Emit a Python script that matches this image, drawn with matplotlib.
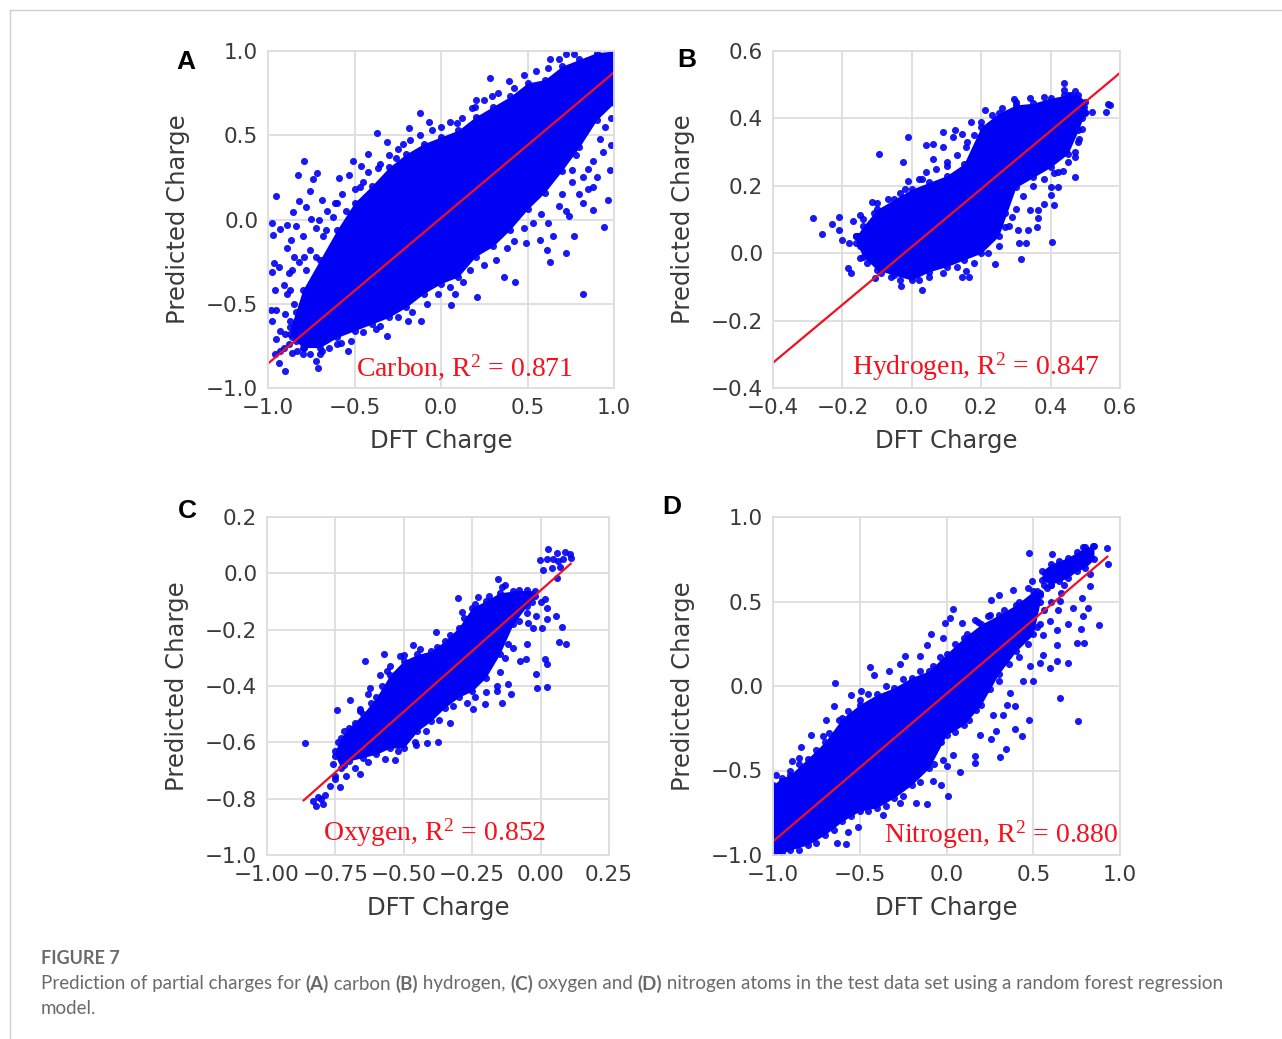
import matplotlib
matplotlib.use('Agg')
import matplotlib.pyplot as plt
from matplotlib.lines import Line2D

plt.rcParams['font.family'] = ['DejaVu Sans']
plt.rcParams['mathtext.default'] = 'regular'

carbon_band_x = [-0.87, -0.84, -0.8, -0.7, -0.6, -0.5, -0.4, -0.3, -0.2, -0.1, 0.0, 0.1, 0.2, 0.3, 0.4, 0.5, 0.6, 0.7, 0.8, 0.9, 1.0]
carbon_band_low = [-0.68, -0.72, -0.76, -0.76, -0.70, -0.66, -0.62, -0.58, -0.52, -0.44, -0.38, -0.34, -0.22, -0.16, -0.06, 0.06, 0.16, 0.29, 0.43, 0.59, 0.69]
carbon_band_high = [-0.64, -0.55, -0.42, -0.24, -0.06, 0.10, 0.20, 0.31, 0.39, 0.45, 0.49, 0.53, 0.61, 0.67, 0.73, 0.81, 0.83, 0.91, 0.95, 0.99, 1.0]

hydrogen_band_x = [-0.16, -0.14, -0.10, -0.05, 0.0, 0.05, 0.1, 0.15, 0.2, 0.25, 0.3, 0.35, 0.4, 0.45, 0.48, 0.5]
hydrogen_band_low = [0.03, -0.01, -0.05, -0.065, -0.08, -0.055, -0.04, -0.02, 0.0, 0.05, 0.195, 0.225, 0.255, 0.295, 0.365, 0.42]
hydrogen_band_high = [0.05, 0.08, 0.13, 0.16, 0.19, 0.21, 0.23, 0.265, 0.375, 0.415, 0.44, 0.445, 0.46, 0.47, 0.47, 0.45]

oxygen_band_x = [-0.75, -0.73, -0.70, -0.65, -0.6, -0.55, -0.5, -0.45, -0.4, -0.35, -0.3, -0.25, -0.2, -0.15, -0.1, -0.05, -0.02]
oxygen_band_low = [-0.65, -0.69, -0.666, -0.654, -0.642, -0.62, -0.62, -0.56, -0.524, -0.477, -0.44, -0.418, -0.37, -0.288, -0.18, -0.116, -0.08]
oxygen_band_high = [-0.63, -0.583, -0.548, -0.5, -0.44, -0.36, -0.31, -0.288, -0.276, -0.24, -0.193, -0.122, -0.098, -0.069, -0.063, -0.06, -0.063]

nitrogen_band_x = [-1.0, -0.95, -0.9, -0.8, -0.7, -0.6, -0.5, -0.4, -0.3, -0.2, -0.1, 0.0, 0.1, 0.2, 0.3, 0.4, 0.5, 0.54]
nitrogen_band_low = [-1.0, -0.99, -0.97, -0.94, -0.88, -0.80, -0.74, -0.72, -0.66, -0.585, -0.485, -0.29, -0.23, -0.11, 0.07, 0.205, 0.305, 0.5]
nitrogen_band_high = [-0.585, -0.545, -0.525, -0.43, -0.33, -0.19, -0.11, -0.05, -0.01, 0.05, 0.09, 0.19, 0.285, 0.365, 0.42, 0.48, 0.56, 0.54]
nitrogen_cap_x = [0.55, 0.6, 0.65, 0.7, 0.75, 0.8, 0.85]
nitrogen_cap_low = [0.63, 0.60, 0.62, 0.64, 0.68, 0.70, 0.75]
nitrogen_cap_high = [0.68, 0.72, 0.74, 0.76, 0.79, 0.82, 0.83]

# scattered points outside the dense part
carbon_x = [-0.956, -0.975, -0.97, -0.79, -0.826, -0.718, -0.74, -0.76, -0.82, -0.78, -0.855, -0.685, -0.75, -0.84, -0.89, -0.93, -0.865, -0.89, -0.80, -0.85, -0.79, -0.965, -0.975, -0.935, -0.88, -0.91, -0.96, -0.89, -0.985, -0.955, -0.975, -0.90, -0.93, -0.955, -0.91, -0.86, -0.935, -0.90, -0.79, -0.725, -0.71, -0.685, -0.54, -0.58, -0.31, -0.375, -0.19, -0.115, 0.06, 0.21, 0.08, 0.425, 0.365, 0.82, 0.63, 0.72, 0.61, 0.77, 0.945, 0.65, 0.49, 0.57, 0.88, 0.82, 0.965, 0.975, 0.935, 0.985, 0.88, 0.76, 0.82, -0.51, -0.46, -0.42, -0.37, -0.31, -0.22, -0.12, -0.185, -0.07, 0.09, 0.205, 0.195, 0.285, 0.295, 0.395, 0.63, 0.77, -0.59, -0.53, -0.47, -0.365, -0.26, -0.665, -0.705, -0.625, -0.61]
carbon_y = [0.139, -0.02, -0.09, 0.347, 0.263, 0.273, 0.24, 0.17, 0.11, 0.075, 0.045, 0.115, 0.005, -0.04, -0.03, -0.055, -0.12, -0.17, -0.10, -0.22, -0.22, -0.26, -0.31, -0.28, -0.32, -0.39, -0.42, -0.44, -0.54, -0.54, -0.60, -0.56, -0.66, -0.71, -0.76, -0.79, -0.85, -0.90, -0.76, -0.84, -0.88, -0.78, -0.78, -0.73, -0.69, -0.65, -0.6, -0.6, -0.51, -0.46, -0.44, -0.37, -0.34, -0.44, -0.25, -0.2, -0.18, -0.1, -0.045, -0.1, -0.14, -0.12, 0.055, 0.095, 0.115, 0.295, 0.40, 0.44, 0.195, 0.295, 0.255, 0.347, 0.317, 0.39, 0.515, 0.46, 0.45, 0.635, 0.545, 0.58, 0.57, 0.71, 0.665, 0.84, 0.735, 0.82, 0.95, 0.985, 0.245, 0.265, 0.195, 0.305, 0.365, -0.06, 0.0, 0.015, 0.1]
carbon_edge_x = [-0.72, -0.68, -0.66, -0.6, -0.57, -0.55, -0.5, -0.45, -0.42, -0.35, -0.3, -0.25, -0.18, -0.12, -0.05, 0.0, 0.05, 0.12, 0.18, 0.25, 0.33, 0.42, 0.48, 0.55, 0.62, 0.68, 0.72, -0.86, -0.82, -0.78, -0.76, -0.72, -0.87, -0.85, -0.87, -0.9, -0.86, -0.83, -0.88, -0.93, -0.96, -0.8, -0.76, -0.7, -0.65, -0.6, -0.52, -0.45, -0.35, -0.25, -0.17, -0.08, -0.02, 0.05, 0.13, 0.17, 0.25, 0.32, 0.38, 0.42, 0.48, 0.53, 0.58, 0.62, 0.68, 0.7, 0.72, 0.76, 0.8, 0.85, 0.88, 0.92, 0.95, 0.98, 0.85, 0.9, 0.78, 0.74]
carbon_edge_y = [-0.05, -0.1, 0.05, 0.1, 0.15, 0.05, 0.18, 0.22, 0.28, 0.33, 0.38, 0.42, 0.47, 0.5, 0.53, 0.55, 0.58, 0.6, 0.66, 0.71, 0.75, 0.78, 0.86, 0.88, 0.9, 0.95, 0.98, -0.3, -0.25, -0.3, -0.18, -0.22, -0.42, -0.5, -0.6, -0.68, -0.7, -0.78, -0.74, -0.78, -0.8, -0.8, -0.8, -0.8, -0.76, -0.74, -0.72, -0.67, -0.63, -0.58, -0.55, -0.5, -0.44, -0.4, -0.37, -0.3, -0.27, -0.24, -0.17, -0.13, -0.05, -0.02, 0.03, -0.02, 0.08, 0.15, 0.05, 0.22, 0.15, 0.3, 0.35, 0.48, 0.55, 0.6, 0.18, 0.25, 0.38, 0.02]

hydrogen_x = [-0.285, -0.26, -0.23, -0.21, -0.21, -0.2, -0.17, -0.15, -0.18, -0.185, -0.175, -0.15, -0.155, -0.115, -0.11, -0.105, -0.095, -0.025, -0.01, -0.01, 0.04, 0.06, 0.09, 0.125, 0.09, 0.12, 0.06, 0.1, 0.145, 0.17, 0.155, 0.03, -0.035, 0.03, -0.03, -0.035, 0.145, 0.165, 0.155, 0.24, 0.315, 0.405, 0.33, 0.31, 0.335, 0.305, 0.36, 0.365, 0.34, 0.41, 0.38, 0.4, 0.365, 0.29, 0.27, 0.41, 0.435, 0.47, 0.47, 0.483, 0.4, 0.42, 0.44, 0.44, 0.295, 0.21, 0.38, 0.47, 0.495, 0.52, 0.56, 0.565, 0.57, 0.5]
hydrogen_y = [0.103, 0.058, 0.086, 0.108, 0.068, 0.04, 0.096, 0.113, 0.03, -0.043, -0.06, -0.015, 0.05, 0.152, 0.12, -0.075, 0.294, 0.27, 0.345, 0.215, 0.32, 0.325, 0.36, 0.365, 0.315, 0.345, 0.28, 0.26, 0.355, 0.39, 0.315, 0.22, 0.18, -0.108, -0.098, -0.08, -0.07, -0.07, -0.053, -0.033, -0.018, 0.032, 0.03, 0.03, 0.068, 0.068, 0.078, 0.103, 0.128, 0.143, 0.146, 0.172, 0.128, 0.108, 0.078, 0.237, 0.244, 0.227, 0.286, 0.339, 0.197, 0.195, 0.506, 0.484, 0.457, 0.425, 0.464, 0.48, 0.435, 0.42, 0.42, 0.443, 0.44, 0.415]
hydrogen_edge_x = [-0.16, -0.15, -0.14, -0.12, -0.13, -0.1, -0.07, -0.09, -0.06, -0.02, 0.02, 0.04, 0.07, 0.1, 0.13, 0.16, 0.18, 0.2, 0.23, 0.26, 0.3, 0.34, 0.02, 0.05, 0.09, 0.13, 0.18, 0.22, 0.25, 0.28, 0.27, 0.3, 0.32, 0.35, 0.38, 0.42, 0.45, 0.47, 0.48, 0.46, 0.44, 0.49, 0.49, 0.49]
hydrogen_edge_y = [0.05, 0.02, 0.1, 0.0, -0.03, 0.15, 0.16, -0.06, -0.07, 0.19, 0.22, 0.24, 0.25, 0.27, 0.29, 0.33, 0.35, 0.39, 0.41, 0.43, 0.45, 0.46, -0.08, -0.07, -0.06, -0.04, -0.03, 0.0, 0.02, 0.08, 0.12, 0.13, 0.17, 0.2, 0.22, 0.24, 0.27, 0.3, 0.33, 0.47, 0.47, 0.44, 0.4, 0.37]

oxygen_x = [-0.862, -0.832, -0.82, -0.813, -0.797, -0.804, -0.787, -0.77, -0.752, -0.76, -0.734, -0.713, -0.66, -0.533, -0.743, -0.697, -0.66, -0.64, -0.573, -0.624, -0.588, -0.63, -0.563, -0.515, -0.466, -0.383, -0.301, -0.289, -0.228, -0.157, -0.13, -0.265, -0.374, -0.417, -0.454, -0.332, -0.246, -0.204, -0.14, -0.109, -0.161, -0.118, -0.076, -0.055, -0.051, -0.1, -0.012, 0.022, -0.018, 0.016, 0.024, 0.067, 0.093, 0.077, 0.056, 0.022, 0.004, -0.027, -0.015, 0.022, 0.016, -0.045, 0.028, -0.002, 0.01, 0.022, 0.04, 0.046, 0.059, 0.065, 0.083, 0.089, 0.107, 0.11, 0.07, 0.061]
oxygen_y = [-0.604, -0.81, -0.826, -0.794, -0.818, -0.802, -0.787, -0.755, -0.731, -0.676, -0.759, -0.72, -0.711, -0.664, -0.486, -0.45, -0.489, -0.311, -0.285, -0.406, -0.362, -0.43, -0.347, -0.294, -0.254, -0.21, -0.089, -0.136, -0.084, -0.019, -0.043, -0.163, -0.599, -0.604, -0.609, -0.53, -0.483, -0.465, -0.46, -0.427, -0.418, -0.394, -0.311, -0.305, -0.252, -0.264, -0.406, -0.404, -0.356, -0.303, -0.323, -0.243, -0.252, -0.189, -0.151, -0.163, -0.193, -0.193, -0.151, -0.122, -0.092, -0.175, 0.085, 0.046, 0.011, 0.05, 0.02, 0.05, 0.073, 0.044, 0.05, 0.076, 0.067, 0.056, 0.022, -0.018]
oxygen_edge_x = [-0.74, -0.72, -0.68, -0.66, -0.62, -0.58, -0.55, -0.5, -0.44, -0.38, -0.33, -0.28, -0.24, -0.19, -0.14, -0.08, -0.72, -0.68, -0.63, -0.57, -0.52, -0.46, -0.42, -0.37, -0.32, -0.27, -0.24, -0.2, -0.16, -0.15, -0.13, -0.12, -0.08, -0.05, -0.03, 0.0, -0.75]
oxygen_edge_y = [-0.6, -0.56, -0.53, -0.48, -0.46, -0.4, -0.33, -0.29, -0.27, -0.26, -0.22, -0.16, -0.11, -0.08, -0.05, -0.06, -0.68, -0.69, -0.67, -0.66, -0.63, -0.6, -0.56, -0.52, -0.47, -0.46, -0.44, -0.42, -0.4, -0.35, -0.3, -0.25, -0.17, -0.14, -0.1, -0.1, -0.72]

nitrogen_x = [-0.64, -0.44, -0.42, -0.33, -0.27, -0.24, -0.15, -0.09, -0.115, -0.02, -0.01, 0.02, 0.04, 0.087, 0.163, 0.24, 0.3, 0.256, 0.385, 0.477, 0.606, 0.49, 0.52, 0.577, -0.548, -0.494, -0.65, -0.692, -0.78, -0.837, -0.888, -0.98, -0.85, -0.71, -0.63, -0.577, -0.567, -0.51, -0.365, -0.177, -0.112, -0.27, 0.01, -0.077, -0.03, 0.077, 0.004, -0.02, 0.038, 0.163, 0.163, 0.31, 0.342, 0.254, 0.394, 0.438, 0.477, 0.288, 0.192, 0.327, 0.394, 0.346, 0.27, 0.654, 0.756, 0.365, 0.5, 0.442, 0.596, 0.538, 0.635, 0.702, 0.48, 0.558, 0.635, 0.75, 0.792, 0.775, 0.88, 0.788, 0.702, 0.635, 0.596, 0.558, 0.538, 0.817, 0.73, 0.779, 0.827, 0.654, 0.933, 0.927, 0.846, 0.788, 0.75, 0.827]
nitrogen_y = [0.018, 0.113, 0.067, 0.09, 0.13, 0.176, 0.18, 0.305, 0.24, 0.285, 0.373, 0.403, 0.457, 0.373, 0.393, 0.413, 0.54, 0.506, 0.571, 0.789, 0.779, 0.62, 0.56, 0.581, -0.051, -0.032, -0.12, -0.2, -0.29, -0.358, -0.443, -0.526, -0.427, -0.298, -0.93, -0.935, -0.862, -0.832, -0.763, -0.694, -0.698, -0.694, -0.65, -0.565, -0.585, -0.51, -0.476, -0.437, -0.407, -0.457, -0.417, -0.423, -0.372, -0.312, -0.253, -0.294, -0.204, -0.265, -0.288, -0.17, -0.12, -0.11, -0.17, -0.071, -0.207, -0.042, 0.032, 0.028, 0.107, 0.136, 0.146, 0.136, 0.117, 0.186, 0.245, 0.255, 0.255, 0.34, 0.36, 0.413, 0.364, 0.334, 0.383, 0.304, 0.364, 0.462, 0.462, 0.522, 0.591, 0.502, 0.719, 0.818, 0.828, 0.822, 0.759, 0.66]
nitrogen_edge_x = [-0.95, -0.9, -0.85, -0.75, -0.68, -0.62, -0.57, -0.5, -0.45, -0.35, -0.25, -0.15, -0.08, -0.04, 0.05, 0.12, 0.18, 0.25, 0.33, 0.42, 0.47, -0.85, -0.75, -0.65, -0.55, -0.45, -0.35, -0.25, -0.15, -0.07, -0.03, 0.05, 0.13, 0.17, 0.25, 0.3, 0.36, 0.42, 0.47, 0.52, 0.56, 0.6, 0.64, 0.54, 0.6, 0.56, 0.66, 0.68]
nitrogen_edge_y = [-0.56, -0.5, -0.46, -0.38, -0.28, -0.2, -0.15, -0.08, -0.05, 0.0, 0.04, 0.09, 0.12, 0.17, 0.25, 0.31, 0.38, 0.42, 0.45, 0.5, 0.58, -0.97, -0.93, -0.85, -0.77, -0.74, -0.71, -0.65, -0.57, -0.46, -0.33, -0.27, -0.2, -0.14, -0.02, 0.03, 0.13, 0.17, 0.25, 0.35, 0.45, 0.5, 0.45, 0.55, 0.6, 0.6, 0.55, 0.6]

carbon_fit_x, carbon_fit_y = [-1.0, 1.0], [-0.855, 0.873]
hydrogen_fit_x, hydrogen_fit_y = [-0.4, 0.6], [-0.325, 0.535]
oxygen_fit_x, oxygen_fit_y = [-0.866, 0.11], [-0.806, 0.034]
nitrogen_fit_x, nitrogen_fit_y = [-1.0, 0.927], [-0.92, 0.765]

carbon_ticks = [-1.0, -0.5, 0.0, 0.5, 1.0]
hydrogen_ticks = [-0.4, -0.2, 0.0, 0.2, 0.4, 0.6]
oxygen_xticks = [-1.0, -0.75, -0.5, -0.25, 0.0, 0.25]
oxygen_yticks = [-1.0, -0.8, -0.6, -0.4, -0.2, 0.0, 0.2]

W, H = 1282, 1039
TXT = '#3a3a3a'
GRID = '#dddddd'
BLUE = '#0000f5'


def tick_text(fmt, v):
    return (fmt % v).replace('-', '\u2212')


def panel(box, xticks, yticks, xfmt, bands, px, py, fit_x, fit_y, label, label_xy, letter, letter_xy):
    l, t, r, b = box
    ax = fig.add_axes([l / W, 1 - b / H, (r - l) / W, (b - t) / H])
    ax.set_xlim(xticks[0], xticks[-1])
    ax.set_ylim(yticks[0], yticks[-1])
    ax.set_xticks(xticks)
    ax.set_xticklabels([tick_text(xfmt, v) for v in xticks])
    ax.set_yticks(yticks)
    ax.set_yticklabels([tick_text('%.1f', v) for v in yticks])
    ax.set_axisbelow(True)
    ax.grid(color=GRID, lw=1.3)
    ax.tick_params(length=0, labelsize=15.5, labelcolor=TXT)
    ax.tick_params(axis='x', pad=7)
    ax.tick_params(axis='y', pad=7)
    for s in ax.spines.values():
        s.set_color(GRID)
        s.set_linewidth(1.3)
    for bx, blo, bhi in bands:
        ax.fill_between(bx, blo, bhi, color=BLUE, lw=0)
        ax.scatter(bx, blo, s=26, color=BLUE, lw=0, alpha=0.9)
        ax.scatter(bx, bhi, s=26, color=BLUE, lw=0, alpha=0.9)
    for xs, ys in zip(px, py):
        ax.scatter(xs, ys, s=26, color=BLUE, lw=0, alpha=0.9)
    ax.plot(fit_x, fit_y, color='#f01020', lw=1.6)
    ax.set_xlabel('DFT Charge', fontsize=17.5, color=TXT, va='center')
    ax.xaxis.set_label_coords(0.5, -53 / (b - t))
    ax.set_ylabel('Predicted Charge', fontsize=17.5, color=TXT, va='center')
    ax.yaxis.set_label_coords(-90 / (r - l), 0.5)
    fig.text(label_xy[0] / W, 1 - label_xy[1] / H, label, color='#f5101c', fontsize=20,
             family='Liberation Serif', ha='left', va='center')
    fig.text(letter_xy[0] / W, 1 - letter_xy[1] / H, letter, color='black', fontsize=19,
             family='Liberation Sans', weight='bold', ha='center', va='center')
    return ax


fig = plt.figure(figsize=(W / 100, H / 100), dpi=100, facecolor='white')

panel((268, 51, 614, 388), carbon_ticks, carbon_ticks, '%.1f',
      [(carbon_band_x, carbon_band_low, carbon_band_high)],
      [carbon_x, carbon_edge_x], [carbon_y, carbon_edge_y],
      carbon_fit_x, carbon_fit_y, 'Carbon, R$^2$ = 0.871', (356, 367), 'A', (186, 62))
panel((773, 51, 1120, 388), hydrogen_ticks, hydrogen_ticks, '%.1f',
      [(hydrogen_band_x, hydrogen_band_low, hydrogen_band_high)],
      [hydrogen_x, hydrogen_edge_x], [hydrogen_y, hydrogen_edge_y],
      hydrogen_fit_x, hydrogen_fit_y, 'Hydrogen, R$^2$ = 0.847', (852, 367), 'B', (687, 60))
panel((267, 517, 609, 855), oxygen_xticks, oxygen_yticks, '%.2f',
      [(oxygen_band_x, oxygen_band_low, oxygen_band_high)],
      [oxygen_x, oxygen_edge_x], [oxygen_y, oxygen_edge_y],
      oxygen_fit_x, oxygen_fit_y, 'Oxygen, R$^2$ = 0.852', (323, 833), 'C', (187, 511))
panel((773, 517, 1120, 855), carbon_ticks, carbon_ticks, '%.1f',
      [(nitrogen_band_x, nitrogen_band_low, nitrogen_band_high),
       (nitrogen_cap_x, nitrogen_cap_low, nitrogen_cap_high)],
      [nitrogen_x, nitrogen_edge_x], [nitrogen_y, nitrogen_edge_y],
      nitrogen_fit_x, nitrogen_fit_y, 'Nitrogen, R$^2$ = 0.880', (884, 835), 'D', (672, 507))

# page frame
fig.add_artist(Line2D([10 / W, 10 / W], [0, 1 - 10 / H], color='#cfcfcf', lw=1))
fig.add_artist(Line2D([10 / W, 1], [1 - 10 / H, 1 - 10 / H], color='#cfcfcf', lw=1))

# caption
CAP = '#6a6a6a'
CAPFONT = 'Lato'
fig.text(41 / W, 1 - 959 / H, 'FIGURE 7', color=CAP, fontsize=13, family=CAPFONT, weight='bold', va='center')
pieces = [('Prediction of partial charges for ', 'normal'), ('(A)', 'bold'), (' carbon ', 'normal'), ('(B)', 'bold'),
          (' hydrogen, ', 'normal'), ('(C)', 'bold'), (' oxygen and ', 'normal'), ('(D)', 'bold'),
          (' nitrogen atoms in the test data set using a random forest regression', 'normal')]
renderer = fig.canvas.get_renderer()
x_px = 41
for s, w in pieces:
    # trailing spaces are not measured reliably, so measure with a guard char
    t = fig.text(x_px / W, 1 - 984 / H, s, color=CAP, fontsize=13.5, family=CAPFONT, weight=w, va='center')
    guard = fig.text(0, 0, s + '|', fontsize=13.5, family=CAPFONT, weight=w)
    bar = fig.text(0, 0, '|', fontsize=13.5, family=CAPFONT, weight=w)
    x_px += guard.get_window_extent(renderer).width - bar.get_window_extent(renderer).width
    guard.remove()
    bar.remove()
fig.text(41 / W, 1 - 1008 / H, 'model.', color=CAP, fontsize=13.5, family=CAPFONT, va='center')

fig.savefig('out.png', dpi=100)
